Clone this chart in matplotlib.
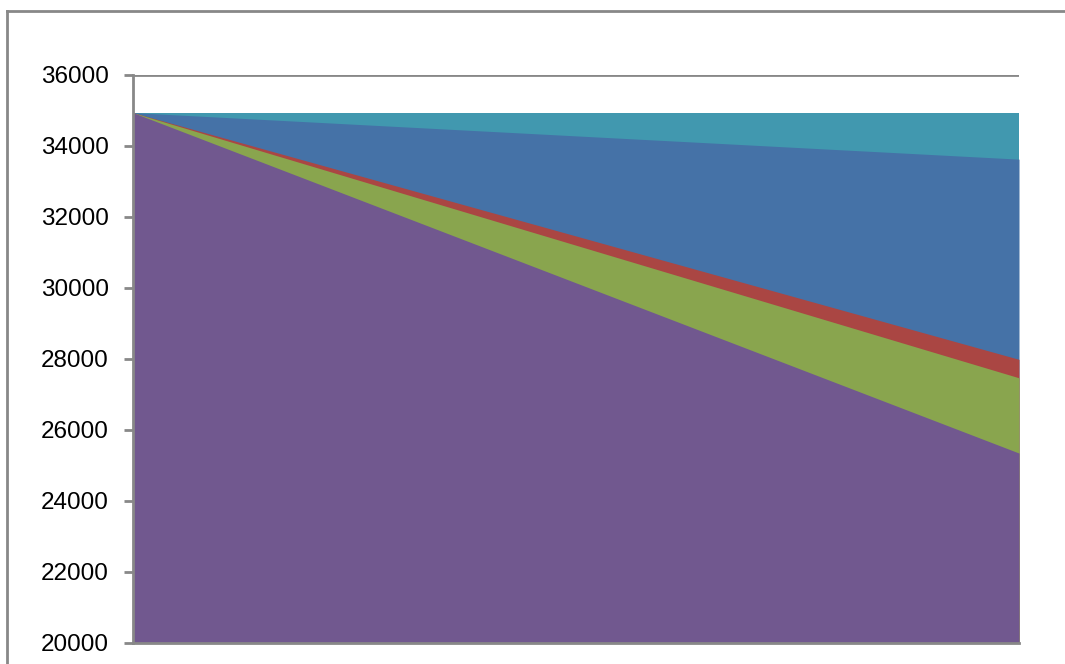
import matplotlib
matplotlib.use('Agg')
import matplotlib.pyplot as plt
from matplotlib.lines import Line2D

# ---- data --------------------------------------------------------------------
x = [0, 1]
# each area runs from the axis floor up to these values, drawn back to front
teal = [34940, 34940]
blue = [34940, 33630]
red = [34940, 27990]
green = [34940, 27470]
purple = [34940, 25350]

layers = [teal, blue, red, green, purple]
colors = ['#4198AF', '#4572A7', '#AA4643', '#89A54E', '#71588F']

y_ticks = list(range(20000, 36001, 2000))

# ---- figure ------------------------------------------------------------------
W, H = 1065, 664
fig = plt.figure(figsize=(W / 100, H / 100), dpi=100)
plt.rcParams['font.family'] = ['Liberation Sans', 'DejaVu Sans']

ax = fig.add_axes([133 / W, 1 - 643 / H, (1019 - 133) / W, (643 - 75) / H])

grey = '#888888'
for vals, c in zip(layers, colors):
    ax.fill_between(x, 20000, vals, color=c, linewidth=0, zorder=2)

ax.set_xlim(0, 1)
ax.set_ylim(20000, 36000)
ax.set_yticks(y_ticks)
ax.set_yticklabels([str(v) for v in y_ticks], fontsize=17.5)
ax.set_xticks([])

ax.grid(axis='y', color=grey, linewidth=2, zorder=1)
ax.set_axisbelow(True)
ax.tick_params(axis='y', length=6.5, width=2, color=grey, pad=11)

for side in ['top', 'right']:
    ax.spines[side].set_visible(False)
for side in ['left', 'bottom']:
    ax.spines[side].set_color(grey)
    ax.spines[side].set_linewidth(2)
    ax.spines[side].set_zorder(3)

# outer chart border (cropped on the right and bottom)
fig.add_artist(Line2D([7 / W, 7 / W], [0, 1 - 11 / H], color=grey, linewidth=2,
                      transform=fig.transFigure))
fig.add_artist(Line2D([7 / W, 1], [1 - 11 / H, 1 - 11 / H], color=grey, linewidth=2,
                      transform=fig.transFigure))

fig.savefig('out.png', dpi=100)
